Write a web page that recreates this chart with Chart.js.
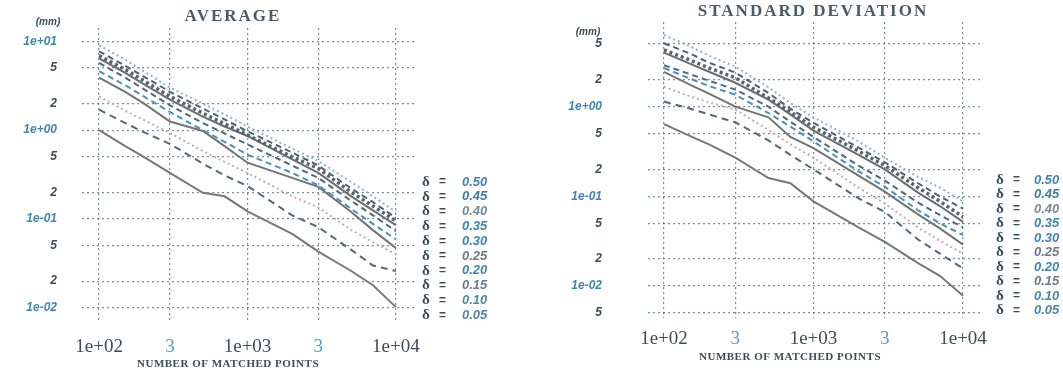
<!DOCTYPE html>
<html><head><meta charset="utf-8">
<script src="https://cdn.jsdelivr.net/npm/chart.js@4.4.1/dist/chart.umd.min.js"></script>
<style>
html,body{margin:0;padding:0;background:#fff;width:1063px;height:376px;overflow:hidden}
#wrapL{position:absolute;left:0;top:0;width:530px;height:376px}
#wrapR{position:absolute;left:530px;top:0;width:533px;height:376px}
</style></head><body>
<div id="wrapL"><canvas id="cL" width="530" height="376"></canvas></div>
<div id="wrapR"><canvas id="cR" width="533" height="376"></canvas></div>
<script>
// ---------------- DATA ----------------
const matchedPoints = [100, 150, 200, 300, 500, 700, 1000, 2000, 3000, 5000, 7000, 10000];
const deltas = ['0.50', '0.45', '0.40', '0.35', '0.30', '0.25', '0.20', '0.15', '0.10', '0.05'];

// AVERAGE (mm)
const avg050 = [9.0, 6.2, 4.6, 3.0, 2.0, 1.5, 1.10, 0.62, 0.45, 0.26, 0.18, 0.12];
const avg045 = [7.7, 5.3, 4.0, 2.7, 1.75, 1.32, 0.97, 0.56, 0.40, 0.22, 0.155, 0.103];
const avg040 = [6.9, 4.8, 3.6, 2.4, 1.55, 1.18, 0.88, 0.50, 0.37, 0.20, 0.14, 0.095];
const avg035 = [6.4, 4.4, 3.3, 2.2, 1.42, 1.10, 0.86, 0.47, 0.33, 0.18, 0.125, 0.085];
const avg030 = [5.7, 3.9, 2.9, 1.9, 1.2, 0.92, 0.69, 0.40, 0.29, 0.16, 0.11, 0.073];
const avg025 = [4.6, 3.2, 2.4, 1.6, 1.0, 0.74, 0.53, 0.33, 0.24, 0.13, 0.088, 0.059];
const avg020 = [3.9, 2.7, 2.0, 1.25, 0.98, 0.66, 0.43, 0.29, 0.23, 0.12, 0.075, 0.047];
const avg015 = [2.4, 1.65, 1.3, 0.93, 0.58, 0.44, 0.33, 0.18, 0.135, 0.075, 0.055, 0.040];
const avg010 = [1.7, 1.2, 0.95, 0.70, 0.42, 0.31, 0.235, 0.11, 0.081, 0.045, 0.030, 0.026];
const avg005 = [1.0, 0.66, 0.50, 0.33, 0.197, 0.18, 0.122, 0.068, 0.043, 0.026, 0.018, 0.0102];

// STANDARD DEVIATION (mm)
const sd050 = [6.3, 4.7, 3.7, 2.8, 1.65, 1.1, 0.76, 0.41, 0.27, 0.165, 0.125, 0.088];
const sd045 = [5.1, 3.9, 3.1, 2.4, 1.42, 0.95, 0.66, 0.35, 0.24, 0.14, 0.10, 0.073];
const sd040 = [4.3, 3.3, 2.7, 2.1, 1.25, 0.88, 0.59, 0.32, 0.22, 0.125, 0.088, 0.059];
const sd035 = [4.0, 3.0, 2.45, 1.85, 1.2, 0.82, 0.54, 0.29, 0.20, 0.11, 0.078, 0.052];
const sd030 = [2.9, 2.3, 1.95, 1.55, 1.0, 0.68, 0.46, 0.22, 0.15, 0.085, 0.062, 0.045];
const sd025 = [2.7, 2.05, 1.7, 1.36, 0.85, 0.60, 0.41, 0.19, 0.128, 0.070, 0.050, 0.037];
const sd020 = [2.45, 1.75, 1.4, 1.0, 0.76, 0.46, 0.345, 0.17, 0.113, 0.063, 0.044, 0.029];
const sd015 = [1.67, 1.3, 1.12, 0.93, 0.55, 0.38, 0.27, 0.125, 0.083, 0.045, 0.032, 0.023];
const sd010 = [1.14, 0.95, 0.82, 0.67, 0.42, 0.29, 0.20, 0.095, 0.067, 0.033, 0.023, 0.0157];
const sd005 = [0.64, 0.47, 0.38, 0.27, 0.16, 0.14, 0.088, 0.045, 0.031, 0.018, 0.013, 0.0078];

const xTickValues = [100, 300, 1000, 3000, 10000];
const xTickLabels = ['1e+02', '3', '1e+03', '3', '1e+04'];
const avgYTickValues = [0.01, 0.02, 0.05, 0.1, 0.2, 0.5, 1, 2, 5, 10];
const avgYTickLabels = ['1e-02', '2', '5', '1e-01', '2', '5', '1e+00', '2', '5', '1e+01'];
const sdYTickValues = [0.005, 0.01, 0.02, 0.05, 0.1, 0.2, 0.5, 1, 2, 5];
const sdYTickLabels = ['5', '1e-02', '2', '5', '1e-01', '2', '5', '1e+00', '2', '5'];

const averageSeries = [avg050, avg045, avg040, avg035, avg030, avg025, avg020, avg015, avg010, avg005];
const sdSeries = [sd050, sd045, sd040, sd035, sd030, sd025, sd020, sd015, sd010, sd005];

// ---------------- STYLES ----------------
const lineStyles = [
  {color: '#8cb5cb', dash: [2, 3], width: 2},
  {color: '#4f6470', dash: [6, 4], width: 2},
  {color: '#55636a', dash: [3, 3], width: 3.5},
  {color: '#6c6c6c', dash: [], width: 2},
  {color: '#4e6a7a', dash: [6, 4], width: 2},
  {color: '#4a90ba', dash: [6, 4], width: 2},
  {color: '#747474', dash: [], width: 2},
  {color: '#c9aab2', dash: [2, 3], width: 2},
  {color: '#54697a', dash: [7, 5], width: 2},
  {color: '#787878', dash: [], width: 2}
];
const legendValueColors = ['#3f86b0', '#3b7da6', '#7a8a90', '#3f86b0', '#3f86b0', '#6c7c84', '#3f86b0', '#6c7c84', '#4f86a8', '#4f86a8'];
const DARK = '#3d4d56', BLUE = '#3f86b0';

const decor = {
  id: 'decor',
  afterDraw(chart, args, o) {
    const ctx = chart.ctx;
    ctx.save();
    ctx.textBaseline = 'middle';
    ctx.textAlign = 'center';
    ctx.fillStyle = '#4a5c66';
    ctx.font = 'bold 17px "Liberation Serif"';
    ctx.letterSpacing = '2px';
    ctx.fillText(o.title, o.titleX, o.titleY);
    ctx.letterSpacing = '0px';
    ctx.fillStyle = DARK;
    ctx.font = 'italic bold 10px "Liberation Sans"';
    ctx.fillText('(mm)', o.mmX, o.mmY);
    ctx.font = 'bold 11px "Liberation Serif"';
    ctx.letterSpacing = '0.5px';
    ctx.fillText('NUMBER OF MATCHED POINTS', o.xtX, o.xtY);
    ctx.letterSpacing = '0px';
    ctx.textAlign = 'left';
    chart.data.datasets.forEach((ds, i) => {
      const parts = ds.label.split(' ');
      const y = o.legY + i * o.legStep;
      ctx.fillStyle = DARK;
      ctx.font = 'bold 15px "Liberation Serif"';
      ctx.fillText(parts[0], o.legX, y);
      ctx.font = 'bold 12px "Liberation Sans"';
      ctx.fillText(parts[1], o.legX + 17, y);
      ctx.fillStyle = legendValueColors[i];
      ctx.font = 'italic bold 13px "Liberation Sans"';
      ctx.fillText(parts[2], o.legX + o.valOff, y);
    });
    ctx.restore();
  }
};

function makeChart(canvasId, series, cfg) {
  const datasets = series.map((vals, i) => ({
    label: 'δ = ' + deltas[i],
    data: vals,
    borderColor: lineStyles[i].color,
    borderDash: lineStyles[i].dash,
    borderWidth: lineStyles[i].width,
    pointRadius: 0,
    fill: false,
    tension: 0
  }));
  return new Chart(document.getElementById(canvasId), {
    type: 'line',
    data: {labels: matchedPoints, datasets},
    plugins: [decor],
    options: {
      responsive: false,
      animation: false,
      layout: {padding: {left: 0, top: cfg.top, right: cfg.right, bottom: 0}},
      plugins: {
        legend: {display: false},
        tooltip: {enabled: false},
        decor: cfg.decor
      },
      scales: {
        x: {
          type: 'logarithmic',
          min: cfg.xMin, max: cfg.xMax,
          afterFit: s => { s.height = cfg.xAxisH; s.paddingLeft = 0; s.paddingRight = 0; },
          afterBuildTicks: s => { s.ticks = xTickValues.map(v => ({value: v})); },
          grid: {color: 'rgba(70,95,110,0.7)', lineWidth: 1.2, drawTicks: false},
          border: {display: false, dash: [2, 3]},
          ticks: {
            autoSkip: false, maxRotation: 0, padding: cfg.xPad,
            font: {family: '"Liberation Serif"', size: 19},
            color: c => (xTickLabels[c.index] === '3' ? '#5b9ac0' : DARK),
            callback: (v, i) => xTickLabels[i]
          }
        },
        y: {
          type: 'logarithmic',
          min: cfg.yMin, max: cfg.yMax,
          afterFit: s => { s.width = cfg.yAxisW; s.paddingTop = 0; s.paddingBottom = 0; },
          afterBuildTicks: s => { s.ticks = cfg.yVals.map(v => ({value: v})); },
          grid: {color: 'rgba(70,95,110,0.7)', lineWidth: 1.2, drawTicks: false},
          border: {display: false, dash: [2, 3]},
          ticks: {
            autoSkip: false, padding: cfg.yPad,
            font: {family: '"Liberation Sans"', size: 12, style: 'italic', weight: 'bold'},
            color: c => (cfg.yLabels[c.index].startsWith('1e') ? BLUE : DARK),
            callback: (v, i) => cfg.yLabels[i]
          }
        }
      }
    }
  });
}

makeChart('cL', averageSeries, {
  top: 28, right: 115, xAxisH: 53, yAxisW: 82, xPad: 13, yPad: 25,
  xMin: 76.7, xMax: 13440, yMin: 0.00676, yMax: 14.1,
  yVals: avgYTickValues, yLabels: avgYTickLabels,
  decor: {title: 'AVERAGE', titleX: 233, titleY: 17, mmX: 48, mmY: 22, xtX: 228, xtY: 364,
          legX: 422, legY: 182, legStep: 14.8, valOff: 40}
});
makeChart('cR', sdSeries, {
  top: 22, right: 80, xAxisH: 58, yAxisW: 118, xPad: 10, yPad: 46,
  xMin: 78.2, xMax: 13600, yMin: 0.0044, yMax: 8.8,
  yVals: sdYTickValues, yLabels: sdYTickLabels,
  decor: {title: 'STANDARD DEVIATION', titleX: 283, titleY: 12, mmX: 58, mmY: 32, xtX: 260, xtY: 357,
          legX: 466, legY: 180, legStep: 14.5, valOff: 38}
});
</script>
</body></html>
